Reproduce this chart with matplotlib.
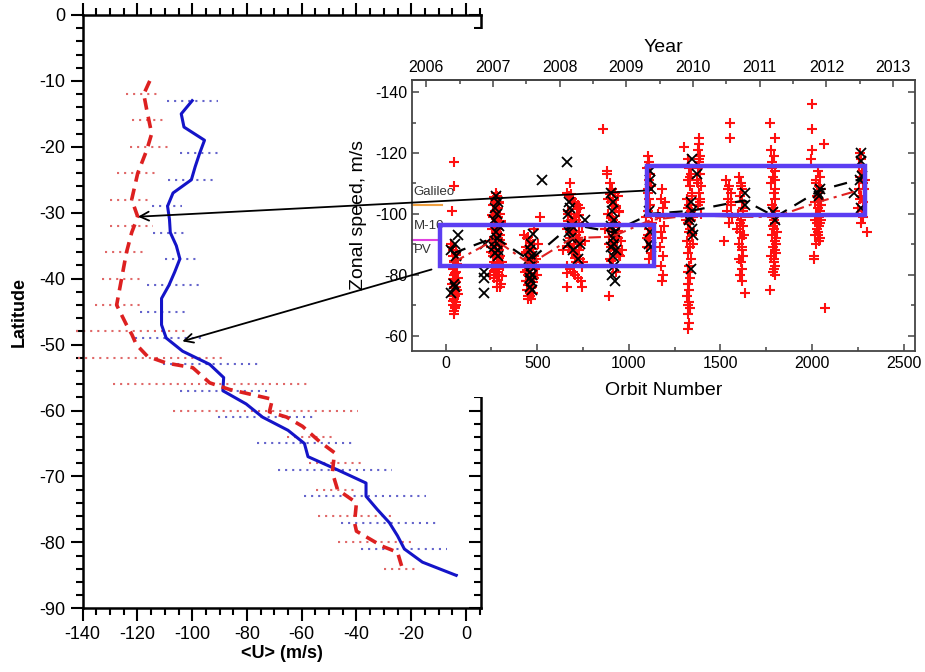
import matplotlib
matplotlib.use('Agg')
import matplotlib.pyplot as plt
from matplotlib.patches import Rectangle
from matplotlib.ticker import MultipleLocator

plt.rcParams['font.family'] = ['Liberation Sans', 'DejaVu Sans']
plt.rcParams['axes.unicode_minus'] = False

# ---- left panel: zonal wind profiles ----
blue_lat = [-13, -15, -17, -19, -21, -23, -25, -27, -29, -31, -33, -35, -37, -39, -41, -43, -45, -47, -49,
            -51, -53, -55, -57, -59, -61, -63, -65, -67, -69, -71, -73, -75, -77, -79, -81, -83, -85]
blue_u = [-100, -104, -103, -95.5, -97.3, -98.9, -100.3, -107, -109, -108.3, -108, -105.8, -104.5, -106.4,
          -108.5, -111.2, -111.2, -111.2, -109.5, -103.5, -93.6, -88.5, -88.8, -80.3, -74.3, -65, -59, -57.7,
          -46.9, -36.5, -36.5, -32.4, -28, -25, -22.5, -15.9, -3.6]
blue_err_lat = [-13, -21, -25, -29, -33, -37, -41, -45, -49, -53, -57, -61, -65, -69, -73, -77, -81, -85]
blue_err_lo = [-109.3, -104.6, -109, -114.8, -114.5, -110, -116.6, -119.2, -121, -110.8, -104.6, -90.7,
               -76.5, -68.8, -59, -45.5, -38.2, -3.5]
blue_err_hi = [-90.7, -90, -91.8, -103.9, -102, -98, -96.6, -101.7, -96.2, -74.7, -72.8, -55.3, -41.5,
               -26.9, -14.5, -10.4, -6.8, -1.3]

red_lat = [-10, -12, -14.4, -18, -20.5, -24, -28, -30.6, -33, -36, -40, -44, -47, -48.5, -50, -51.8, -52.8,
           -53.5, -55.8, -56.8, -57.6, -58.3, -60.2, -61, -62.4, -64.7, -66.4, -69.4, -72, -74, -77, -78.3,
           -80.6, -81.5, -84]
red_u = [-115.5, -117.7, -116.6, -114.8, -116.6, -119.9, -122.1, -119.9, -122.1, -124, -125.8, -127.6, -124,
         -122, -120.4, -116.3, -109.4, -99.8, -93.6, -86.4, -78, -70.7, -71.8, -65.5, -59.7, -53.5, -48, -48.8,
         -46.9, -40, -40.7, -40, -30.5, -25, -23.2]
red_err_lat = [-12, -16, -20, -24, -28, -32, -36, -40, -44, -48, -52, -56, -60, -64, -68, -72, -76, -80, -84]
red_err_lo = [-124.3, -122.1, -122.8, -127.6, -130, -130, -132, -133, -135.6, -142.6, -141.8, -129, -107,
              -65.5, -57.2, -54.6, -53.9, -46.9, -29.8]
red_err_hi = [-113, -110.8, -109, -112.3, -114.8, -114.5, -116.6, -118, -118, -101.7, -88.2, -58.2, -39.6,
              -48, -38.2, -40, -27.2, -18.8, -17.7]

# ---- inset: zonal speed vs orbit number ----
red_orbit_a = [47, 47, 34, 30, 42, 55, 38, 60, 48, 52, 40, 58, 45, 65, 50, 36, 55, 44, 62, 48, 40, 53, 46, 58, 42, 50, 56, 44, 48, 52,
               35, 58, 44, 62, 50, 40, 56, 47, 66, 38, 53, 60]
red_speed_a = [-117, -109, -101, -90, -88, -87, -86, -85, -84, -83, -82, -81, -80, -79, -78, -77, -76, -76, -75, -74, -73, -73, -72, -71, -70, -69, -70, -68, -67, -78,
               -89, -86.5, -84.5, -82.5, -80.5, -78.5, -77.5, -75.5, -73.5, -71.5, -69.5, -83.5]
red_orbit_b = [275, 282, 268, 290, 260, 285, 272, 295, 258, 280, 300, 265, 288, 252, 278, 296, 262, 284, 270, 305, 248, 290,
               276, 260, 298, 282, 266, 310, 254, 286, 274, 292, 262, 280, 300, 245, 270, 288, 258, 315, 278, 296, 240, 268,
               265, 292, 278, 255, 300, 270, 285, 262, 296, 275, 250, 290, 280, 268, 305, 258, 286, 272]
red_speed_b = [-107, -106, -105, -104, -103, -102, -101, -100, -99, -98, -97, -96, -95, -95, -94, -93, -92, -91, -90, -90, -89, -88,
               -88, -87, -86, -85, -84, -84, -83, -82, -81, -80, -79, -78, -77, -91, -96, -99, -86, -83, -76, -76, -80, -104,
               -105.5, -103.5, -101.5, -99.5, -97.5, -95.5, -93.5, -92.5, -91.5, -89.5, -87.5, -85.5, -83.5, -81.5, -79.5, -87, -92, -97]
red_orbit_c = [430, 445, 460, 475, 438, 452, 468, 485, 442, 458, 472, 490, 435, 450, 465, 480, 440, 455, 470, 445, 460, 476, 448, 463,
               452, 468, 458, 440, 495, 505, 513, 500, 482,
               448, 462, 478, 436, 455, 470, 444, 460, 475, 452, 466, 480, 440, 456]
red_speed_c = [-93, -92, -91, -90, -89, -88, -87, -86, -85, -84, -83, -82, -81, -80, -79, -79, -78, -77, -76, -75, -74, -74, -73, -73,
               -72, -72, -82, -87, -85, -90, -99, -80, -95,
               -92.5, -90.5, -88.5, -87.5, -85.5, -83.5, -81.5, -80.5, -77.5, -76.5, -75.5, -84, -78, -89]
red_orbit_d = [660, 675, 690, 705, 720, 735, 668, 682, 698, 712, 728, 745, 665, 680, 695, 710, 725, 740, 672, 688, 702, 718, 732, 750,
               662, 678, 694, 708, 722, 738, 670, 686, 700, 716, 680, 695, 710, 730, 678, 861, 745, 664, 640, 760,
               685, 700, 715, 730, 668, 692, 708, 722, 676, 690, 705, 742, 660, 684, 712, 726]
red_speed_d = [-107, -106, -105, -104, -103, -102, -101, -100, -99, -98, -97, -96, -95, -94, -93, -92, -91, -90, -89, -88, -87, -86, -85, -84,
               -83, -82, -81, -80, -79, -78, -100, -95, -90, -86, -92, -97, -84, -94, -110, -128, -76, -76, -88, -91,
               -106.5, -103.5, -101.5, -99.5, -97.5, -96.5, -94.5, -91.5, -89.5, -87.5, -85.5, -82.5, -80.5, -98, -93, -88]
red_orbit_e = [880, 895, 910, 925, 940, 888, 902, 918, 932, 948, 885, 900, 915, 930, 945, 892, 908, 922, 938, 955, 890, 905, 920, 935,
               950, 898, 912, 928, 880, 889, 965, 870,
               898, 915, 932, 948, 905, 920, 938, 890, 910, 928, 944, 900, 918, 935]
red_speed_e = [-113, -110, -108, -107, -106, -105, -104, -103, -102, -101, -100, -99, -98, -97, -96, -95, -94, -93, -92, -91, -90, -89, -88, -87,
               -86, -85, -83, -81, -114, -73, -88, -95,
               -106.5, -104.5, -102.5, -100.5, -98.5, -96.5, -94.5, -92.5, -90.5, -88.5, -86.5, -84.5, -97, -91]
red_orbit_f = [1105, 1110, 1100, 1115, 1108, 1120, 1102, 1112, 1118, 1106, 1095, 1125, 1110, 1104, 1116, 1100, 1122, 1108, 1113, 1098, 1119, 1106,
               1180, 1175, 1185, 1170, 1190, 1178, 1182, 1172, 1188, 1176, 1184, 1180, 1160, 1195]
red_speed_f = [-119, -117, -115, -113, -111, -109, -107, -105, -103, -101, -99, -97, -95, -93, -91, -89, -87, -85, -96, -92, -100, -108,
               -108, -105, -102, -99, -96, -94, -92, -89, -86, -83, -80, -78, -100, -104]
red_orbit_g = [1320, 1330, 1340, 1325, 1335, 1345, 1318, 1328, 1338, 1350, 1322, 1332, 1342, 1315, 1335, 1325, 1340, 1330, 1320, 1335, 1325, 1330,
               1318, 1328, 1335, 1322, 1330, 1325, 1320, 1380, 1385, 1375, 1390, 1382, 1378, 1388, 1372, 1395, 1380, 1386, 1376, 1392, 1300, 1310,
               1335, 1345, 1325, 1340, 1330, 1350, 1385, 1378, 1390]
red_speed_g = [-118, -115, -113, -111, -109, -107, -105, -103, -101, -99, -97, -95, -93, -91, -89, -87, -85, -83, -81, -79, -77, -75,
               -73, -71, -69, -67, -64, -62, -70, -125, -123, -121, -119, -117, -115, -113, -111, -109, -107, -105, -103, -100, -122, -98,
               -112, -106, -102, -98, -94, -90, -118, -110, -104]
red_orbit_h = [1550, 1550, 1530, 1545, 1560, 1540, 1555, 1535, 1565, 1548, 1600, 1610, 1620, 1605, 1615, 1625, 1598, 1612, 1622, 1608, 1618, 1603,
               1615, 1625, 1610, 1620, 1605, 1615, 1630, 1520, 1636, 1590,
               1542, 1558, 1612, 1622, 1608, 1618, 1600]
red_speed_h = [-130, -125, -111, -109, -107, -105, -103, -101, -99, -97, -112, -110, -108, -106, -104, -102, -100, -98, -96, -94, -92, -90,
               -88, -86, -84, -82, -80, -78, -93, -91, -74, -95,
               -108, -104, -109, -101, -97, -89, -85]
red_orbit_i = [1770, 1800, 1775, 1790, 1780, 1795, 1785, 1775, 1790, 1800, 1780, 1795, 1785, 1800, 1790, 1780, 1795, 1785, 1805, 1790, 1800, 1785,
               1795, 1790, 1805, 1780, 1795, 1788, 1800, 1770, 1810, 1792,
               1782, 1798, 1788, 1802, 1778, 1794]
red_speed_i = [-130, -125, -121, -119, -117, -114, -112, -110, -107, -105, -103, -101, -99, -97, -95, -93, -91, -89, -87, -85, -83, -81,
               -80, -84, -92, -100, -108, -96, -88, -75, -94, -98,
               -115, -111, -102, -90, -86, -82]
red_orbit_j = [2000, 2000, 2065, 2000, 1995, 2030, 2045, 2020, 2035, 2050, 2025, 2040, 2015, 2030, 2045, 2020, 2035, 2050, 2025, 2040, 2030, 2015,
               2045, 2035, 2020, 2010, 2012, 2070, 2040, 2028,
               2022, 2038, 2048, 2018, 2032, 2042]
red_speed_j = [-136, -128, -123, -121, -118, -114, -112, -111, -109, -108, -106, -105, -104, -102, -101, -100, -99, -98, -97, -96, -94, -93,
               -92, -91, -90, -86, -85, -69, -103, -95,
               -110, -107, -103, -98, -93, -97]
red_orbit_k = [2260, 2265, 2255, 2270, 2262, 2275, 2258, 2268, 2280, 2250, 2272, 2262, 2285, 2275, 2265, 2300, 2290]
red_speed_k = [-120, -118, -116, -114, -112, -110, -108, -106, -104, -102, -101, -105, -108, -99, -97, -94, -111]

black_orbit = [67, 52, 30, 58, 45, 50, 30,
               214, 210, 212, 208, 275, 285, 270, 280, 265, 290, 275, 282, 268, 278, 288, 272, 285, 262,
               478, 465, 460, 470, 455, 468, 462, 472, 458, 466, 460, 470, 528,
               665, 672, 680, 668, 690, 675, 685, 670, 695, 760, 735, 720,
               905, 915, 910, 920, 900, 925, 912, 918, 905, 930, 915, 920, 910, 925,
               1118, 1115, 1120, 1112, 1116, 1110, 1122,
               1345, 1372, 1338, 1345, 1330, 1345, 1352, 1340, 1335,
               1634, 1632, 1798, 1785, 2034, 2045, 2040,
               2267, 2267, 2262, 2270, 2231, 2268]
black_speed = [-93, -90, -88, -86, -77, -76, -74,
               -90, -81, -79, -74, -106, -104, -102, -100, -98, -96, -94, -92, -91, -90, -88, -87, -86, -89,
               -93.5, -90, -88, -86, -85, -83, -81, -80, -79, -78, -76, -75, -111,
               -117, -104, -102, -100, -96, -94, -92, -90, -88, -98, -90, -85,
               -107, -104, -101, -98, -96, -94, -92, -90, -89, -88, -86, -83, -80, -78,
               -114, -111, -108, -101, -94, -90, -89,
               -118, -113, -104, -101, -98, -95, -93, -82, -99,
               -107, -103, -98, -100.5, -107, -108, -106,
               -120, -117.5, -111, -112.5, -107, -102]

mean_orbit = [40, 270, 460, 690, 910, 1120, 1340, 1630, 1800, 2040, 2270]
black_mean = [-87, -92.3, -84.7, -96.5, -94, -100, -101, -104.4, -99, -107.7, -111.5]
red_mean = [-84, -91.5, -83.5, -92, -92.5, -98, -99.5, -99, -99, -104, -108]

year_ticks = [2006, 2007, 2008, 2009, 2010, 2011, 2012, 2013]


def orbit_to_year(o):
    return 2006 + (o + 106) / 364.0


def year_to_orbit(y):
    return (y - 2006) * 364.0 - 106


fig = plt.figure(figsize=(9.25, 6.72), dpi=100)

# left panel
ax = fig.add_axes([0.0894, 0.0948, 0.4303, 0.8829])
ax.hlines(red_err_lat, red_err_lo, red_err_hi, colors='#e06868', linestyles=(0, (1.0, 2.4)), lw=1.5, clip_on=False)
ax.hlines(blue_err_lat, blue_err_lo, blue_err_hi, colors='#6464cc', linestyles=(0, (1.0, 2.4)), lw=1.5, clip_on=False)
ax.plot(blue_u, blue_lat, color='#1414c8', lw=2.2)
ax.plot(red_u, red_lat, color='#dd2020', lw=2.6, dashes=(3.2, 2.0))
ax.set_xlim(-140, 5.4)
ax.set_ylim(-90, 0)
ax.xaxis.set_major_locator(MultipleLocator(20))
ax.xaxis.set_minor_locator(MultipleLocator(5))
ax.yaxis.set_major_locator(MultipleLocator(10))
ax.yaxis.set_minor_locator(MultipleLocator(2))
ax.tick_params(which='both', direction='out', top=True, width=1.5, labelsize=13)
ax.tick_params(which='major', length=9)
ax.tick_params(which='minor', length=5)
for s in ax.spines.values():
    s.set_linewidth(1.8)
ax.spines['right'].set_visible(False)
sec_r = ax.secondary_yaxis('right')
sec_r.yaxis.set_major_locator(MultipleLocator(10))
sec_r.yaxis.set_minor_locator(MultipleLocator(2))
sec_r.tick_params(which='both', direction='in', width=1.5, labelright=False)
sec_r.tick_params(which='major', length=9)
sec_r.tick_params(which='minor', length=5)
sec_r.spines['right'].set_linewidth(1.8)
ax.set_xlabel('<U> (m/s)', fontsize=13, fontweight='bold', labelpad=2)
ax.set_ylabel('Latitude', fontsize=13, fontweight='bold', labelpad=8)

# white background behind the inset
fig.add_artist(Rectangle((0.3676, 0.4092), 0.6324, 0.5476, transform=fig.transFigure,
                         facecolor='white', edgecolor='none', zorder=2))

# inset panel
ins = fig.add_axes([0.4457, 0.4781, 0.5432, 0.4029], zorder=3)
for xs, ys in [(red_orbit_a, red_speed_a), (red_orbit_b, red_speed_b), (red_orbit_c, red_speed_c),
               (red_orbit_d, red_speed_d), (red_orbit_e, red_speed_e), (red_orbit_f, red_speed_f),
               (red_orbit_g, red_speed_g), (red_orbit_h, red_speed_h), (red_orbit_i, red_speed_i),
               (red_orbit_j, red_speed_j), (red_orbit_k, red_speed_k)]:
    ins.plot(xs, ys, '+', color='#ff1010', ms=7, mew=1.5, ls='none')
ins.plot(black_orbit, black_speed, 'x', color='black', ms=6.5, mew=1.3, ls='none')
ins.plot(mean_orbit, red_mean, color='#e02020', lw=1.5, dashes=(6, 2.5, 1.5, 2.5))
ins.plot(mean_orbit, black_mean, color='black', lw=1.6, dashes=(6, 4))

ins.add_patch(Rectangle((-32, -96.2), 1171, 13.5, fill=False, edgecolor='#5b3ef2', lw=3.2, zorder=5))
ins.add_patch(Rectangle((1101, -115.7), 1185, 16.0, fill=False, edgecolor='#5b3ef2', lw=3.2, zorder=5))

ins.plot([-182, -20], [-102.8, -102.8], color='#f0a040', lw=1.5, clip_on=False)
ins.plot([-182, -33], [-91.5, -91.5], color='#e040e0', lw=1.5, clip_on=False)
ins.text(-174, -107.3, 'Galileo', fontsize=9.5, color='#333333', va='center', ha='left')
ins.text(-174, -96.0, 'M-10', fontsize=9.5, color='#333333', va='center', ha='left', zorder=1)
ins.text(-174, -88.0, 'PV', fontsize=9.5, color='#333333', va='center', ha='left')

ins.set_xlim(-182, 2560)
ins.set_ylim(-55, -144)
ins.xaxis.set_major_locator(MultipleLocator(500))
ins.xaxis.set_minor_locator(MultipleLocator(250))
ins.yaxis.set_major_locator(MultipleLocator(20))
ins.yaxis.set_minor_locator(MultipleLocator(10))
ins.tick_params(which='both', direction='in', top=False, right=True, labelsize=11.5, width=1.1, color='#444444')
ins.tick_params(which='major', length=5)
ins.tick_params(which='minor', length=3)
for s in ins.spines.values():
    s.set_linewidth(1.3)
    s.set_color('#444444')
ins.set_xlabel('Orbit Number', fontsize=14, labelpad=8)
ins.set_ylabel('Zonal speed, m/s', fontsize=14, labelpad=6)

top = ins.secondary_xaxis('top', functions=(orbit_to_year, year_to_orbit))
top.set_xticks(year_ticks)
top.xaxis.set_minor_locator(MultipleLocator(0.5))
top.tick_params(which='both', direction='in', labelsize=11.5, width=1.1, color='#444444')
top.tick_params(which='major', length=5)
top.tick_params(which='minor', length=3)
top.spines['top'].set_linewidth(1.3)
top.spines['top'].set_color('#444444')
top.set_xlabel('Year', fontsize=14, labelpad=6)

# arrows from the inset boxes to the profiles
ins.annotate('', xy=(-119.8, -30.6), xycoords=ax.transData, xytext=(1111, -107.7), textcoords='data',
             arrowprops=dict(arrowstyle='->', color='black', lw=1.3, shrinkA=0, shrinkB=0, mutation_scale=16),
             annotation_clip=False)
ins.annotate('', xy=(-103.6, -49.5), xycoords=ax.transData, xytext=(-77, -81.7), textcoords='data',
             arrowprops=dict(arrowstyle='->', color='black', lw=1.3, shrinkA=0, shrinkB=0, mutation_scale=16),
             annotation_clip=False)

fig.savefig('out.png', dpi=100)
